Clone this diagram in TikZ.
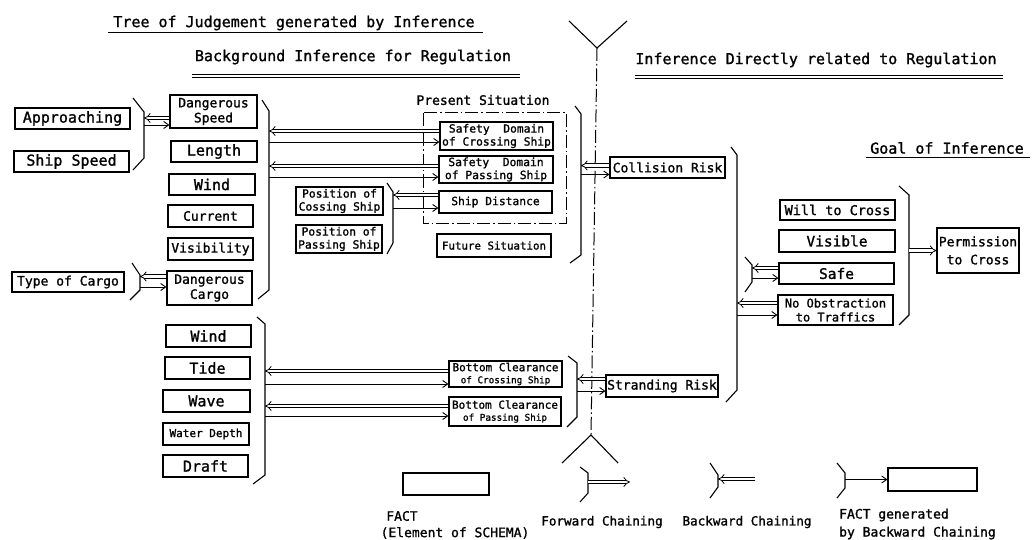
\documentclass[tikz,border=0pt]{standalone}
\usepackage{fontspec}
\setmainfont[FakeBold=1.3]{DejaVu Sans Mono}
\usetikzlibrary{arrows.meta, calc}

\begin{document}
\begin{tikzpicture}[x=1pt, y=-1pt]
	
	% Stile für Kästen, Pfeile und Klammern
	\tikzset{
		every node/.style={inner sep=0pt, align=center},
		box/.style={draw, line width=1.1pt},
		gross/.style={font=\fontsize{15pt}{17pt}\selectfont},
		mittel/.style={font=\fontsize{13pt}{15pt}\selectfont},
		klein/.style={font=\fontsize{11.3pt}{13pt}\selectfont},
		doppel/.style={double, double distance=2.6pt, line width=0.8pt, -{Implies[scale=1.3]}},
		hin/.style={line width=0.9pt, -{Straight Barb[length=5pt, width=7pt]}},
		klammer/.style={line width=1.1pt},
		strichpunkt/.style={line width=1pt, dash pattern=on 13pt off 3pt on 1.5pt off 3pt}
	}
	\useasboundingbox (0,0) rectangle (1035,540);
	
	% Überschriften
	\node[gross] (titel) at (294,23) {Tree of Judgement generated by Inference};
	\draw[line width=0.9pt] (108,32) -- (483,32);
	\node[gross] (hinter) at (353,57) {Background Inference for Regulation};
	\draw[line width=0.9pt] (192,74) -- (520,74);
	\draw[line width=0.9pt] (192,77.5) -- (520,77.5);
	\node[gross] (direkt) at (816,60) {Inference Directly related to Regulation};
	\draw[line width=0.9pt] (635,75) -- (1003,75);
	\draw[line width=0.9pt] (635,78.5) -- (1003,78.5);
	\node[gross] (ziel) at (947,148) {Goal of Inference};
	\draw[line width=0.9pt] (866,157) -- (1030,157);
	
	% Trennlinie mit Gabeln
	\draw[strichpunkt] (597,48) -- (591,435);
	\draw[klammer] (569,21) -- (597,48) -- (627,21);
	\draw[klammer] (562,463) -- (591,435) -- (618,463);
	
	% linke Spalte
	\node[box, gross, minimum width=115pt, minimum height=21pt] (approach) at (72.5,118.5) {Approaching};
	\node[box, gross, minimum width=115pt, minimum height=21pt] (shipspeed) at (71.5,161.5) {Ship Speed};
	\node[box, mittel, minimum width=112pt, minimum height=20pt] (tcargo) at (68,282) {Type of Cargo};
	
	\node[box, mittel, minimum width=87pt, minimum height=33pt] (dspeed) at (213.5,111.5) {Dangerous\\Speed};
	\node[box, gross, minimum width=86pt, minimum height=21pt] (length) at (214,151.5) {Length};
	\node[box, gross, minimum width=86pt, minimum height=21pt] (windA) at (212,184.5) {Wind};
	\node[box, mittel, minimum width=85pt, minimum height=22pt] (current) at (210.5,216) {Current};
	\node[box, mittel, minimum width=85pt, minimum height=22pt] (visib) at (210.5,249) {Visibility};
	\node[box, mittel, minimum width=85pt, minimum height=34pt] (dcargo) at (209.5,288) {Dangerous\\Cargo};
	
	\node[box, gross, minimum width=85pt, minimum height=22pt] (windB) at (208.5,336) {Wind};
	\node[box, gross, minimum width=85pt, minimum height=22pt] (tide) at (207.5,368) {Tide};
	\node[box, gross, minimum width=87pt, minimum height=22pt] (wave) at (206.5,401) {Wave};
	\node[box, font=\fontsize{11pt}{13pt}\selectfont, minimum width=86pt, minimum height=22pt] (wdepth) at (206,434) {Water Depth};
	\node[box, gross, minimum width=85pt, minimum height=22pt] (draft) at (205.5,466) {Draft};
	
	% Schiffspositionen
	\node[box, klein, minimum width=87pt, minimum height=28pt] (poscross) at (339.5,201) {Position of\\Cossing Ship};
	\node[box, klein, minimum width=86pt, minimum height=28pt] (pospass) at (339,239) {Position of\\Passing Ship};
	
	% gegenwärtige Situation
	\draw[strichpunkt] (423,113) rectangle (566,223);
	\node[mittel] (gegenwart) at (483,100) {Present Situation};
	\node[box, klein, minimum width=113pt, minimum height=28pt] (sdcross) at (496.5,136) {Safety\ \ Domain\\of Crossing Ship};
	\node[box, klein, minimum width=114pt, minimum height=27pt] (sdpass) at (496,169.5) {Safety\ \ Domain\\of Passing Ship};
	\node[box, klein, minimum width=113pt, minimum height=22pt] (sdist) at (495.5,202) {Ship Distance};
	\node[box, font=\fontsize{10.8pt}{13pt}\selectfont, minimum width=114pt, minimum height=23pt] (future) at (494,245.5) {Future Situation};
	
	% Bodenfreiheit
	\node[box, minimum width=113pt, minimum height=26pt] (bccross) at (505.5,374) {\fontsize{11pt}{12pt}\selectfont Bottom Clearance\\\fontsize{9.3pt}{12pt}\selectfont of Crossing Ship};
	\node[box, minimum width=112pt, minimum height=29pt] (bcpass) at (505,411.5) {\fontsize{11pt}{12pt}\selectfont Bottom Clearance\\\fontsize{9.3pt}{13pt}\selectfont of Passing Ship};
	
	% Risiken
	\node[box, mittel, minimum width=115pt, minimum height=21pt] (collision) at (667.5,167.5) {Collision Risk};
	\node[box, mittel, minimum width=112pt, minimum height=22pt] (stranding) at (662,386) {Stranding Risk};
	
	% rechte Spalte
	\node[box, font=\fontsize{13.5pt}{15pt}\selectfont, minimum width=115pt, minimum height=20pt] (will) at (837.5,210) {Will to Cross};
	\node[box, font=\fontsize{14.5pt}{16pt}\selectfont, minimum width=116pt, minimum height=22pt] (visible) at (837,241) {Visible};
	\node[box, font=\fontsize{14.5pt}{16pt}\selectfont, minimum width=115pt, minimum height=21pt] (safe) at (836.5,273.5) {Safe};
	\node[box, font=\fontsize{12pt}{14pt}\selectfont, minimum width=115pt, minimum height=30pt] (noobs) at (835.5,310) {No Obstraction\\to Traffics};
	\node[box, font=\fontsize{13pt}{18pt}\selectfont, minimum width=82pt, minimum height=45pt] (permit) at (978,250.5) {Permission\\to Cross};
	
	% Klammern
	\foreach \n/\xa/\ya/\xv/\yb/\yc/\xb/\yd in {k1/133/98/144/112/158/133/170, k2/262/100/269/111/290/258/299,
		k3/132/263/140/275/290/130/300, k4/387/183/393/192/243/387/254, k5/575/106/581/114/255/570/263,
		k6/257/317/265/324/475/253/484, k7/568/356/577/363/417/567/427, k8/731/147/737/155/390/726/402,
		k9/745/257/752/265/282/745/292, k10/899/186/909/195/315/899/325, l1/580/467/588/473/493/580/502,
		l2/710/463/718/475/487/710/498, l3/837/463/845/473/488/837/498} {
		\draw[klammer] (\xa,\ya) -- (\xv,\yb) -- (\xv,\yc) -- (\xb,\yd);
		\coordinate (\n) at (\xv,\yb);
	}
	
	% Rückwärtsverkettung und erzeugte Fakten
	\foreach \b/\k/\o/\u in {dspeed/k1/6.5/13.5, dcargo/k3/-11.5/-1, sdcross/k2/-5/6, sdpass/k2/-3.5/7.5,
		sdist/k4/-7/6, collision/k5/-2/7, bccross/k6/-3/10, bcpass/k6/-5.5/4.5,
		stranding/k7/-7/5, safe/k9/-5.5/4.5, noobs/k8/-7/5} {
		\draw[doppel] ($(\b.west)+(0,\o)$) -- ($(\k |- \b.west)+(0,\o)$);
		\draw[hin] ($(\k |- \b.west)+(0,\u)$) -- ($(\b.west)+(0,\u)$);
	}
	
	% Vorwärtsverkettung zum Ziel
	\draw[doppel] (k10 |- permit.west) -- (permit.west);
	
	% Legende
	\node[box, minimum width=86pt, minimum height=22pt] (factbox) at (446,484) {};
	\node[mittel] (fact1) at (402,516) {FACT};
	\node[mittel] (fact2) at (455,533) {(Element of SCHEMA)};
	\coordinate (vorEnde) at (630,482);
	\draw[doppel] (l1 |- vorEnde) -- (vorEnde);
	\node[font=\fontsize{12.6pt}{15pt}\selectfont] (vorText) at (602,522) {Forward Chaining};
	\coordinate (rueckStart) at (755,479);
	\draw[doppel] (rueckStart) -- (l2 |- rueckStart);
	\node[font=\fontsize{12.6pt}{15pt}\selectfont] (rueckText) at (747,522) {Backward Chaining};
	\node[box, minimum width=89pt, minimum height=23pt] (genbox) at (932.5,479.5) {};
	\draw[hin] (l3 |- genbox.west) -- (genbox.west);
	\node[font=\fontsize{13pt}{18pt}\selectfont, anchor=west, align=left] (genText) at (839,524) {FACT generated\\by Backward Chaining};
	
\end{tikzpicture}
\end{document}
